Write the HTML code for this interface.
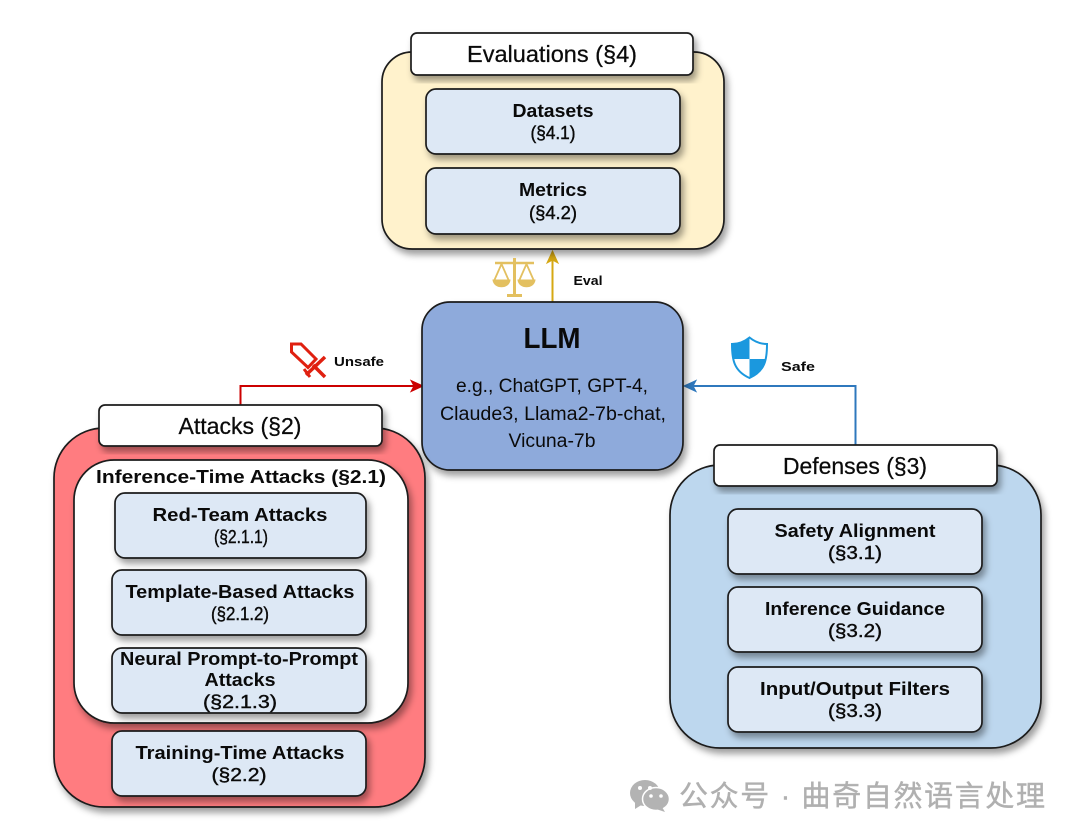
<!DOCTYPE html>
<html><head><meta charset="utf-8">
<style>
html,body{margin:0;padding:0;background:#fff;width:1080px;height:838px;overflow:hidden}
svg{display:block}
text{font-family:"Liberation Sans","Noto Sans CJK SC",sans-serif;fill:#0a0a0a;text-anchor:middle}
.b{font-weight:bold;font-size:18px}
.s{font-size:18px;stroke:#0a0a0a;stroke-width:.4px}
.h{font-size:23px;stroke:#0a0a0a;stroke-width:.25px}
.l{font-size:19px}
.t{font-weight:bold;font-size:12.5px}
.box{stroke:#1a1a1a;stroke-width:1.700;filter:url(#sh)}
.in{fill:#dde8f5}
</style></head><body>
<svg width="1080" height="838" viewBox="0 0 1080 838" xmlns="http://www.w3.org/2000/svg">
<defs>
<filter id="sh" x="-10%" y="-10%" width="125%" height="130%"><feDropShadow dx="3" dy="5" stdDeviation="3.500" flood-color="#000" flood-opacity=".38"/></filter>
</defs>

<!-- connectors -->
<g fill="none" stroke-width="2">
<path d="M240.500 405V386H416" stroke="#cc0000"/>
<path d="M855.500 445V386H690" stroke="#2f78bd"/>
<path d="M552.500 302V257" stroke="#d6a813"/>
</g>
<path d="M423 386L411 380.500L414 386L411 391.500Z" fill="#cc0000" stroke="#cc0000"/>
<path d="M684 386L696 380.500L693 386L696 391.500Z" fill="#2f78bd" stroke="#2f78bd"/>
<path d="M552.500 251L547 263L552.500 260L558 263Z" fill="#d6a813" stroke="#d6a813"/>

<!-- Evaluations -->
<rect class="box" x="382" y="52" width="342" height="197" rx="30" fill="#fff2cc"/>
<rect class="box" x="411" y="33" width="282" height="42" rx="6" fill="#fff"/>
<text class="h" x="552" y="62" textLength="170" lengthAdjust="spacingAndGlyphs">Evaluations (§4)</text>
<rect class="box in" x="426" y="89" width="254" height="65" rx="10"/>
<text class="b" x="553" y="117" textLength="81" lengthAdjust="spacingAndGlyphs">Datasets</text>
<text class="s" x="553" y="139" textLength="45" lengthAdjust="spacingAndGlyphs">(§4.1)</text>
<rect class="box in" x="426" y="168" width="254" height="66" rx="10"/>
<text class="b" x="553" y="196" textLength="68" lengthAdjust="spacingAndGlyphs">Metrics</text>
<text class="s" x="553" y="219" textLength="48" lengthAdjust="spacingAndGlyphs">(§4.2)</text>

<!-- LLM -->
<rect class="box" x="422" y="302" width="261" height="168" rx="28" fill="#8eaadb"/>
<text x="552" y="348" font-size="29" font-weight="bold" textLength="57" lengthAdjust="spacingAndGlyphs">LLM</text>
<text class="l" x="552" y="392" textLength="192" lengthAdjust="spacingAndGlyphs">e.g., ChatGPT, GPT-4,</text>
<text class="l" x="553" y="420" textLength="226" lengthAdjust="spacingAndGlyphs">Claude3, Llama2-7b-chat,</text>
<text class="l" x="552" y="447" textLength="87" lengthAdjust="spacingAndGlyphs">Vicuna-7b</text>

<!-- Attacks -->
<rect class="box" x="54" y="428" width="371" height="379" rx="50" fill="#ff7c80"/>
<rect class="box" x="99" y="405" width="283" height="41" rx="6" fill="#fff"/>
<text class="h" x="240" y="434" textLength="123" lengthAdjust="spacingAndGlyphs">Attacks (§2)</text>
<rect class="box" x="74" y="460" width="334" height="263" rx="40" fill="#fff"/>
<text class="b" x="241" y="483" textLength="290" lengthAdjust="spacingAndGlyphs">Inference-Time Attacks (§2.1)</text>
<rect class="box in" x="115" y="493" width="251" height="65" rx="10"/>
<text class="b" x="240" y="521" textLength="175" lengthAdjust="spacingAndGlyphs">Red-Team Attacks</text>
<text class="s" x="241" y="543" textLength="54" lengthAdjust="spacingAndGlyphs">(§2.1.1)</text>
<rect class="box in" x="112" y="570" width="254" height="65" rx="10"/>
<text class="b" x="240" y="598" textLength="229" lengthAdjust="spacingAndGlyphs">Template-Based Attacks</text>
<text class="s" x="240" y="620" textLength="58" lengthAdjust="spacingAndGlyphs">(§2.1.2)</text>
<rect class="box in" x="112" y="648" width="254" height="65" rx="10"/>
<text class="b" x="239" y="665" textLength="238" lengthAdjust="spacingAndGlyphs">Neural Prompt-to-Prompt</text>
<text class="b" x="240" y="686" textLength="71" lengthAdjust="spacingAndGlyphs">Attacks</text>
<text class="s" x="240" y="708" textLength="74" lengthAdjust="spacingAndGlyphs">(§2.1.3)</text>
<rect class="box in" x="112" y="731" width="254" height="65" rx="10"/>
<text class="b" x="240" y="759" textLength="209" lengthAdjust="spacingAndGlyphs">Training-Time Attacks</text>
<text class="s" x="239" y="781" textLength="55" lengthAdjust="spacingAndGlyphs">(§2.2)</text>

<!-- Defenses -->
<rect class="box" x="670" y="465" width="371" height="283" rx="50" fill="#bdd7ee"/>
<rect class="box" x="714" y="445" width="283" height="41" rx="6" fill="#fff"/>
<text class="h" x="855" y="474" textLength="144" lengthAdjust="spacingAndGlyphs">Defenses (§3)</text>
<rect class="box in" x="728" y="509" width="254" height="65" rx="10"/>
<text class="b" x="855" y="537" textLength="161" lengthAdjust="spacingAndGlyphs">Safety Alignment</text>
<text class="s" x="855" y="559" textLength="54" lengthAdjust="spacingAndGlyphs">(§3.1)</text>
<rect class="box in" x="728" y="587" width="254" height="65" rx="10"/>
<text class="b" x="855" y="615" textLength="180" lengthAdjust="spacingAndGlyphs">Inference Guidance</text>
<text class="s" x="855" y="637" textLength="54" lengthAdjust="spacingAndGlyphs">(§3.2)</text>
<rect class="box in" x="728" y="667" width="254" height="65" rx="10"/>
<text class="b" x="855" y="695" textLength="190" lengthAdjust="spacingAndGlyphs">Input/Output Filters</text>
<text class="s" x="855" y="717" textLength="54" lengthAdjust="spacingAndGlyphs">(§3.3)</text>

<!-- edge labels -->
<text class="t" x="359" y="366" textLength="50" lengthAdjust="spacingAndGlyphs">Unsafe</text>
<text class="t" x="798" y="371" textLength="34" lengthAdjust="spacingAndGlyphs">Safe</text>
<text class="t" x="588" y="285" textLength="29" lengthAdjust="spacingAndGlyphs">Eval</text>

<!-- sword -->
<g fill="none" stroke="#e02010" stroke-linejoin="miter">
<path d="M291.500 344L301 344L316 359L308 367.500L291.500 352Z" stroke-width="3"/>
<path d="M306 375L325 357" stroke-width="3.500"/>
<path d="M313 365L325 377" stroke-width="3.500"/>
<path d="M304 369L310 377" stroke-width="3"/>
</g>

<!-- shield -->
<path d="M749.500 337.500C744 342 738 344 732 344C732 360 734 371 749.500 378C765 371 767 360 767 344C761 344 755 342 749.500 337.500Z" fill="#fff" stroke="#1b98de" stroke-width="2"/>
<path d="M749.500 338V359H733C732.500 354 732 349 732 344C738 344 744 342 749.500 338Z" fill="#1b98de"/>
<path d="M749.500 359H766C764.500 367 760 373 749.500 378Z" fill="#1b98de"/>

<!-- scales -->
<g fill="#e3c060" stroke="#e3c060">
<path d="M514.500 258V294" stroke-width="3"/>
<path d="M495 263H534" stroke-width="2.500"/>
<path d="M507 295.500H522" stroke-width="3"/>
<path d="M493 280C494 289 509 289 510 280Z" stroke-width="1"/>
<path d="M518 280C519 289 534 289 535 280Z" stroke-width="1"/>
<path d="M494 281L501.500 264L509 281M519 281L526.500 264L534 281" fill="none" stroke-width="1.800"/>
</g>

<!-- watermark -->
<g fill="#b3b3b3">
<ellipse cx="645" cy="793" rx="15" ry="13"/>
<path d="M635 802L635 809L643 804Z"/>
<ellipse cx="656" cy="799" rx="13.500" ry="11.500" stroke="#fff" stroke-width="1.500"/>
<path d="M662 807L665 812L656 809Z"/>
<circle cx="640" cy="788" r="2" fill="#fff"/><circle cx="650" cy="788" r="2" fill="#fff"/>
<circle cx="651" cy="796" r="1.800" fill="#fff"/><circle cx="661" cy="796" r="1.800" fill="#fff"/>
</g>
<text x="862" y="806" font-size="29" style="fill:#b0b0b0;stroke:#b0b0b0;stroke-width:.4px" textLength="366" lengthAdjust="spacing">公众号 · 曲奇自然语言处理</text>
</svg>
</body></html>
